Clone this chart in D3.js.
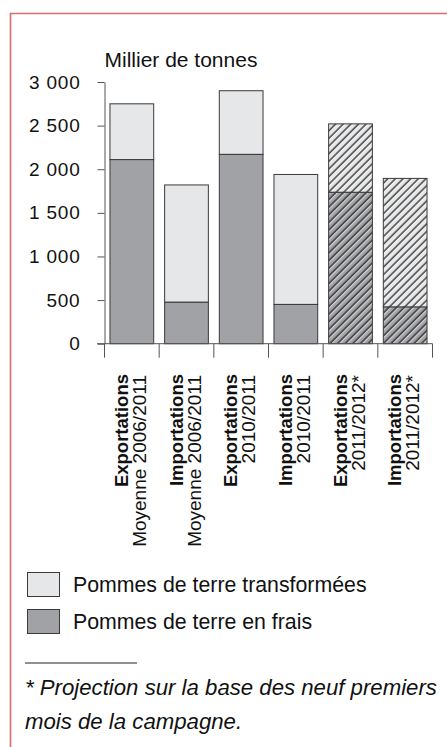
<!DOCTYPE html>
<html>
<head>
<meta charset="utf-8">
<script src="https://cdn.jsdelivr.net/npm/d3@7"></script>
<style>
  body { margin: 0; background: #fff; }
  text { font-family: "Liberation Sans", Arial, sans-serif; fill: #111; }
</style>
</head>
<body>
<svg id="chart" width="447" height="747"></svg>
<script>
// data (milliers de tonnes)
var flows = ["Exportations", "Importations", "Exportations", "Importations", "Exportations", "Importations"];
var periods = ["Moyenne 2006/2011", "Moyenne 2006/2011", "2010/2011", "2010/2011", "2011/2012*", "2011/2012*"];
var fresh = [2110, 475, 2170, 450, 1735, 420];
var processed = [640, 1345, 730, 1490, 785, 1475];
var projected = [false, false, false, false, true, true];
var tickValues = [0, 500, 1000, 1500, 2000, 2500, 3000];
var tickLabels = ["0", "500", "1 000", "1 500", "2 000", "2 500", "3 000"];
var legendLabels = ["Pommes de terre transformées", "Pommes de terre en frais"];

var lightFill = "#e6e7e8";
var darkFill = "#a1a2a5";

const svg = d3.select("#chart");

// frame
svg.append("path")
  .attr("d", "M10.5,747V13.5H447")
  .attr("fill", "none")
  .attr("stroke", "#d8706a")
  .attr("stroke-width", 1.6);

// hatch patterns
const defs = svg.append("defs");
function hatch(id, bg) {
  const p = defs.append("pattern")
    .attr("id", id)
    .attr("patternUnits", "userSpaceOnUse")
    .attr("width", 5.4)
    .attr("height", 10)
    .attr("patternTransform", "rotate(45)");
  p.append("rect").attr("width", 5.4).attr("height", 10).attr("fill", bg);
  p.append("line").attr("x1", 1).attr("x2", 1).attr("y1", 0).attr("y2", 10)
    .attr("stroke", "#222").attr("stroke-width", 1.2);
  p.append("line").attr("x1", 2.5).attr("x2", 2.5).attr("y1", 0).attr("y2", 10)
    .attr("stroke", "#fafafa").attr("stroke-width", 0.7);
}
hatch("hatchLight", lightFill);
hatch("hatchDark", darkFill);

const x = d3.scaleBand()
  .domain(d3.range(flows.length))
  .range([104.5, 432.5])
  .paddingInner(0.2)
  .paddingOuter(0.1);

const y = d3.scaleLinear()
  .domain([0, 3000])
  .range([343.7, 82]);

// title
svg.append("text")
  .attr("x", 104.5)
  .attr("y", 67)
  .attr("font-size", 21)
  .text("Millier de tonnes");

// bars
const bars = svg.append("g");
flows.forEach((f, i) => {
  let total = fresh[i] + processed[i];
  bars.append("rect")
    .attr("x", x(i))
    .attr("y", y(total))
    .attr("width", x.bandwidth())
    .attr("height", y(fresh[i]) - y(total))
    .attr("fill", projected[i] ? "url(#hatchLight)" : lightFill)
    .attr("stroke", "#3a3a3a")
    .attr("stroke-width", 1);
  bars.append("rect")
    .attr("x", x(i))
    .attr("y", y(fresh[i]))
    .attr("width", x.bandwidth())
    .attr("height", y(0) - y(fresh[i]))
    .attr("fill", projected[i] ? "url(#hatchDark)" : darkFill)
    .attr("stroke", "#3a3a3a")
    .attr("stroke-width", 1);
});

// y axis
const yAxis = svg.append("g")
  .attr("transform", "translate(104.5,0)")
  .call(d3.axisLeft(y)
    .tickValues(tickValues)
    .tickFormat((d, i) => tickLabels[i])
    .tickSize(7)
    .tickSizeOuter(0)
    .tickPadding(17));
yAxis.select(".domain").attr("stroke", "#555");
yAxis.selectAll(".tick line").attr("stroke", "#555");
yAxis.selectAll(".tick text")
  .attr("font-family", "Liberation Sans, Arial, sans-serif")
  .attr("font-size", 19)
  .attr("letter-spacing", 0.8)
  .attr("fill", "#111");

// baseline and category dividers
svg.append("line")
  .attr("x1", 97).attr("x2", x.range()[1])
  .attr("y1", y(0)).attr("y2", y(0))
  .attr("stroke", "#555").attr("stroke-width", 1);
d3.range(flows.length + 1).forEach(i => {
  let xx = x.range()[0] + i * x.step();
  svg.append("line")
    .attr("x1", xx).attr("x2", xx)
    .attr("y1", y(0)).attr("y2", y(0) + 14)
    .attr("stroke", "#555").attr("stroke-width", 1);
});

// category labels
flows.forEach((f, i) => {
  let cx = x(i) + x.bandwidth() / 2;
  let t = svg.append("text")
    .attr("transform", `translate(${cx},374) rotate(-90)`)
    .attr("text-anchor", "end");
  t.append("tspan").attr("x", 0).attr("y", -4)
    .attr("font-weight", "bold").attr("font-size", 18.5).text(f);
  t.append("tspan").attr("x", -1).attr("y", 14)
    .attr("font-size", 19).text(periods[i]);
});

// legend
const legend = svg.append("g");
[lightFill, darkFill].forEach((c, i) => {
  legend.append("rect")
    .attr("x", 27.5).attr("y", 572.5 + i * 37)
    .attr("width", 32).attr("height", 24)
    .attr("fill", c)
    .attr("stroke", "#3a3a3a").attr("stroke-width", 1);
  legend.append("text")
    .attr("x", 73)
    .attr("y", 592 + i * 37)
    .attr("font-size", 21.3)
    .text(legendLabels[i]);
});

// footnote
svg.append("line")
  .attr("x1", 25).attr("x2", 137)
  .attr("y1", 663).attr("y2", 663)
  .attr("stroke", "#222").attr("stroke-width", 1);
svg.append("text")
  .attr("x", 25).attr("y", 695)
  .attr("font-size", 22.2)
  .attr("font-style", "italic")
  .text("* Projection sur la base des neuf premiers");
svg.append("text")
  .attr("x", 25).attr("y", 729)
  .attr("font-size", 22.2)
  .attr("font-style", "italic")
  .text("mois de la campagne.");
</script>
</body>
</html>
